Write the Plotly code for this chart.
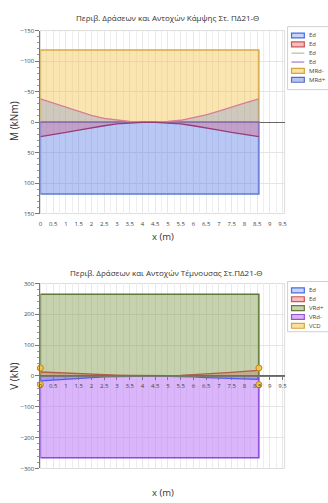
import plotly.graph_objects as go

# ---------------- data ----------------
x_pts = [0, 0.5, 1, 1.5, 2, 2.5, 3, 3.5, 4, 4.5, 5, 5.5, 6, 6.5, 7, 7.5, 8, 8.57]
M_ed_neg = [-38, -31, -25, -17, -11, -6, -3, -1, 0, 0, -1, -3, -7, -12, -18, -25, -31, -38]
M_ed_pos = [24, 21, 17, 13, 9, 6, 3, 1.5, 0.5, 0.5, 1.5, 3, 6, 9, 13, 17, 20, 24]
span = [0, 8.57]
MRd_neg = -118
MRd_pos = 118

V_ed_pos = [13, 11, 9, 7, 5, 4, 3, 2, 1, 0.5, 1, 2, 4, 6, 9, 12, 15, 18]
V_ed_neg = [-16, -13, -10, -7, -5, -3, -2, -1, -0.5, -0.5, -1, -1.5, -3, -5, -7, -8, -10, -11]
VRd_pos = 265
VRd_neg = -265
VCD_x = [0, 0, 8.57, 8.57]
VCD_y = [26, -28, 26, -28]

x_ticks = [i * 0.5 for i in range(20)]
x_ticktext = ["0", "0.5", "1", "1.5", "2", "2.5", "3", "3.5", "4", "4.5", "5", "5.5",
              "6", "6.5", "7", "7.5", "8", "8.5", "9", "9.5"]
M_ticks = [-150, -100, -50, 0, 50, 100, 150]
V_ticks = [-300, -200, -100, 0, 100, 200, 300]

title_M = "Περιβ. Δράσεων και Αντοχών Κάμψης Στ. ΠΔ21-Θ"
title_V = "Περιβ. Δράσεων και Αντοχών Τέμνουσας Στ.ΠΔ21-Θ"

# ---------------- layout helpers ----------------
W, H = 328, 503
def px(x): return x / W
def py(y): return 1 - y / H

FONT = "Open Sans"
TXT = "#333333"

def rect(xs, v):
    return [xs[0], xs[0], xs[1], xs[1], xs[0]], [0, v, v, 0, 0]

fig = go.Figure()

# ---- top chart (moments) ----
rx, ry = rect(span, MRd_neg)
fig.add_trace(go.Scatter(x=rx, y=ry, fill="toself", mode="lines", name="MRd-",
                         fillcolor="rgba(244,196,80,0.45)",
                         line=dict(color="rgb(214,170,70)", width=1.5), xaxis="x", yaxis="y"))
rx, ry = rect(span, MRd_pos)
fig.add_trace(go.Scatter(x=rx, y=ry, fill="toself", mode="lines", name="MRd+",
                         fillcolor="rgba(100,130,232,0.45)",
                         line=dict(color="rgb(95,120,210)", width=1.5), xaxis="x", yaxis="y"))
fig.add_trace(go.Scatter(x=x_pts, y=M_ed_neg, fill="tozeroy", mode="lines", name="Ed",
                         fillcolor="rgba(110,140,220,0.30)",
                         line=dict(color="rgb(215,125,150)", width=1.3), xaxis="x", yaxis="y"))
fig.add_trace(go.Scatter(x=x_pts, y=M_ed_pos, fill="tozeroy", mode="lines", name="Ed",
                         fillcolor="rgba(215,90,120,0.35)",
                         line=dict(color="rgb(150,60,120)", width=1.3), xaxis="x", yaxis="y"))

# ---- bottom chart (shear) ----
rx, ry = rect(span, VRd_pos)
fig.add_trace(go.Scatter(x=rx, y=ry, fill="toself", mode="lines", name="VRd+",
                         fillcolor="rgba(135,160,85,0.48)",
                         line=dict(color="rgb(95,120,55)", width=1.5), xaxis="x2", yaxis="y2"))
rx, ry = rect(span, VRd_neg)
fig.add_trace(go.Scatter(x=rx, y=ry, fill="toself", mode="lines", name="VRd-",
                         fillcolor="rgba(188,120,245,0.55)",
                         line=dict(color="rgb(140,70,220)", width=1.5), xaxis="x2", yaxis="y2"))
fig.add_trace(go.Scatter(x=x_pts, y=V_ed_pos, fill="tozeroy", mode="lines", name="Ed",
                         fillcolor="rgba(200,90,70,0.30)",
                         line=dict(color="rgb(175,95,65)", width=1.3), xaxis="x2", yaxis="y2"))
fig.add_trace(go.Scatter(x=x_pts, y=V_ed_neg, fill="tozeroy", mode="lines", name="Ed",
                         fillcolor="rgba(70,95,235,0.35)",
                         line=dict(color="rgb(85,90,235)", width=1.3), xaxis="x2", yaxis="y2"))
fig.add_trace(go.Scatter(x=VCD_x, y=VCD_y, mode="markers", name="VCD", cliponaxis=False,
                         marker=dict(size=6, color="rgb(245,195,70)",
                                     line=dict(color="rgb(185,135,45)", width=1)),
                         xaxis="x2", yaxis="y2"))

xdom = [px(39), px(287)]
ydom_top = [py(213), py(27)]
ydom_bot = [py(472), py(284)]

common_x = dict(range=[0, 9.58], tickvals=x_ticks, ticktext=x_ticktext,
                tickfont=dict(size=6, color="#444", family=FONT),
                showgrid=True, gridcolor="#e8e8e8", gridwidth=1,
                minor=dict(dtick=0.25, tick0=0, showgrid=True, gridcolor="#efefef"),
                zeroline=False, fixedrange=True)
common_y = dict(tickfont=dict(size=6, color="#444", family=FONT),
                showgrid=True, gridcolor="#e4e4e4", showline=True, linecolor="#777",
                linewidth=1, ticks="outside", ticklen=4, tickcolor="#777",
                minor=dict(ticks="outside", ticklen=2, tickcolor="#999", showgrid=False),
                zeroline=True, zerolinecolor="#666", zerolinewidth=1, fixedrange=True)

fig.update_layout(
    width=W, height=H, margin=dict(l=0, r=0, t=0, b=0),
    paper_bgcolor="white", plot_bgcolor="white", showlegend=False,
    font=dict(family=FONT, color=TXT),
    xaxis=dict(domain=xdom, anchor="y", ticks="", showline=False,
               ticklabelstandoff=5, **common_x),
    yaxis=dict(domain=ydom_top, anchor="x", range=[150, -150], tickvals=M_ticks,
               **common_y),
    xaxis2=dict(domain=xdom, anchor="free", position=(ydom_bot[0] + ydom_bot[1]) / 2,
                showline=True, linecolor="#777", ticks="outside", ticklen=3,
                tickcolor="#777", ticklabelstandoff=1, **common_x),
    yaxis2=dict(domain=ydom_bot, anchor="x2", range=[-300, 300], tickvals=V_ticks,
                **common_y),
)
fig.layout.yaxis.minor.dtick = 10
fig.layout.yaxis2.minor.dtick = 20

# plot frames
for xr, yr in (("x domain", "y domain"), ("x2 domain", "y2 domain")):
    fig.add_shape(type="rect", xref=xr, yref=yr, x0=0, x1=1, y0=0, y1=1,
                  line=dict(color="#dddddd", width=1), layer="below")

# titles
ann = [
    dict(text=title_M, x=px(168), y=py(14), size=8),
    dict(text=title_V, x=px(167), y=py(273), size=8),
    dict(text="x (m)", x=px(163), y=py(236), size=9.5),
    dict(text="x (m)", x=px(163), y=py(496), size=9.5),
]
for a in ann:
    fig.add_annotation(text=a["text"], x=a["x"], y=a["y"], xref="paper", yref="paper",
                       xanchor="center", yanchor="middle", showarrow=False,
                       font=dict(size=a["size"], color=TXT, family=FONT))
fig.add_annotation(text="M (kNm)", x=px(12), y=py(119), xref="paper", yref="paper",
                   textangle=-90, showarrow=False, xanchor="center", yanchor="middle",
                   font=dict(size=10, color=TXT, family=FONT))
fig.add_annotation(text="V (kN)", x=px(12), y=py(378), xref="paper", yref="paper",
                   textangle=-90, showarrow=False, xanchor="center", yanchor="middle",
                   font=dict(size=10, color=TXT, family=FONT))

# custom compact legends
legend_top = [
    ("Ed", "box", "rgb(200,212,248)", "rgb(70,110,225)"),
    ("Ed", "box", "rgb(242,190,190)", "rgb(205,85,85)"),
    ("Ed", "line", None, "rgb(200,200,180)"),
    ("Ed", "line", None, "rgb(180,150,215)"),
    ("MRd-", "box", "rgb(248,225,165)", "rgb(212,165,65)"),
    ("MRd+", "box", "rgb(185,196,238)", "rgb(85,110,200)"),
]
legend_bot = [
    ("Ed", "box", "rgb(200,212,248)", "rgb(70,110,225)"),
    ("Ed", "box", "rgb(242,190,190)", "rgb(205,85,85)"),
    ("VRd+", "box", "rgb(200,210,172)", "rgb(100,125,60)"),
    ("VRd-", "box", "rgb(220,180,245)", "rgb(150,80,220)"),
    ("VCD", "box", "rgb(248,224,160)", "rgb(215,165,60)"),
]

def draw_legend(items, top, bottom):
    fig.add_shape(type="rect", xref="paper", yref="paper",
                  x0=px(290), x1=px(340), y0=py(bottom), y1=py(top),
                  line=dict(color="#d0d0d0", width=1), fillcolor="white")
    for i, (label, kind, fill, edge) in enumerate(items):
        yc = top + 9 + 9 * i
        if kind == "box":
            fig.add_shape(type="rect", xref="paper", yref="paper",
                          x0=px(294), x1=px(307), y0=py(yc + 2.5), y1=py(yc - 2.5),
                          line=dict(color=edge, width=1.2), fillcolor=fill)
        else:
            fig.add_shape(type="line", xref="paper", yref="paper",
                          x0=px(294), x1=px(307), y0=py(yc), y1=py(yc),
                          line=dict(color=edge, width=1.5))
        fig.add_annotation(text=label, x=px(310), y=py(yc), xref="paper", yref="paper",
                           xanchor="left", yanchor="middle", showarrow=False,
                           font=dict(size=6, color="#444", family=FONT))

draw_legend(legend_top, 23, 87)
draw_legend(legend_bot, 282, 333)

fig.write_html("out.html",
               config={"displayModeBar": False, "staticPlot": True},
               post_script="document.body.style.margin='0px';"
                           "document.body.style.overflow='hidden';")
